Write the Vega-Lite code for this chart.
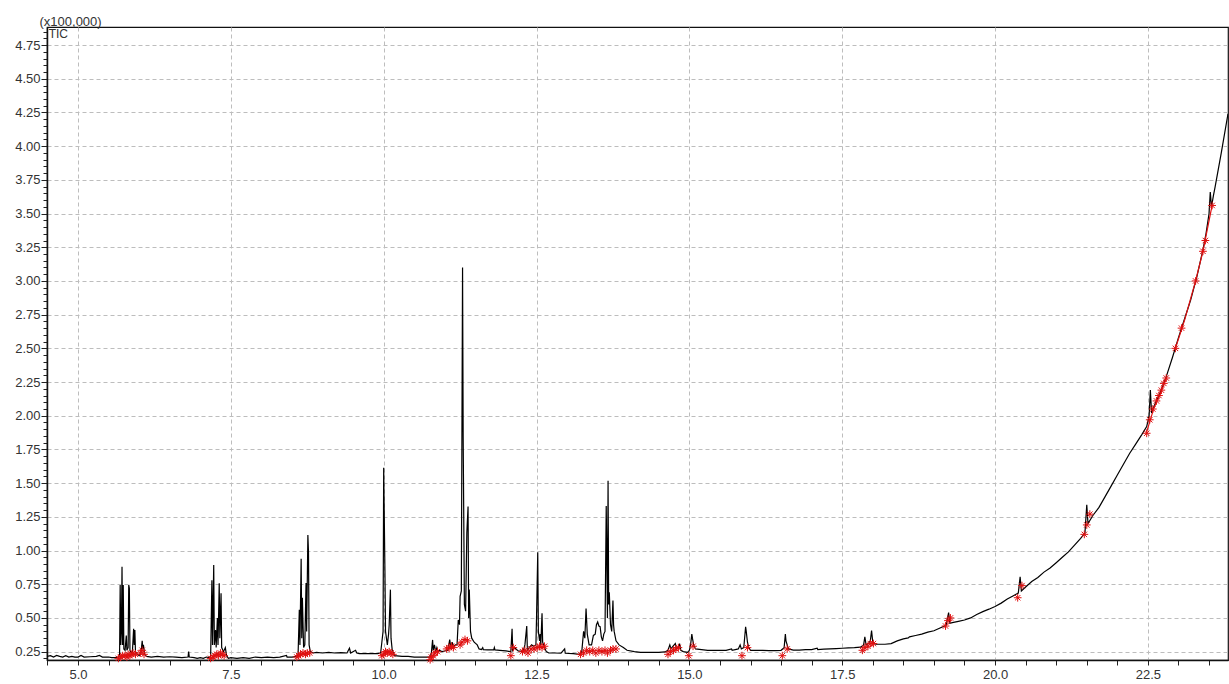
{
  "$schema": "https://vega.github.io/schema/vega-lite/v6.json",
  "width": 1181,
  "height": 633,
  "autosize": "none",
  "padding": {"left": 47, "top": 27, "right": 1, "bottom": 24},
  "background": "white",
  "config": {
    "view": {"stroke": "#111", "strokeWidth": 1.2},
    "axis": {
      "labelFont": "Liberation Sans",
      "labelFontSize": 13,
      "labelColor": "#333",
      "titleFont": "Liberation Sans",
      "domainColor": "#111",
      "domainWidth": 1.5,
      "tickColor": "#222",
      "gridColor": "#bdbdbd",
      "gridDash": [4, 3],
      "gridWidth": 1,
      "labelOverlap": false
    }
  },
  "datasets": {
    "tic": [
      {"t":4.49,"v":0.215},{"t":4.55,"v":0.22},{"t":4.6,"v":0.21},{"t":4.65,"v":0.222},{"t":4.7,"v":0.215},{"t":4.75,"v":0.21},{"t":4.8,"v":0.22},{"t":4.85,"v":0.21},{"t":4.9,"v":0.215},{"t":4.95,"v":0.21},{"t":5.0,"v":0.21},{"t":5.05,"v":0.222},{"t":5.1,"v":0.21},{"t":5.2,"v":0.212},{"t":5.3,"v":0.215},{"t":5.35,"v":0.222},{"t":5.4,"v":0.21},{"t":5.5,"v":0.21},{"t":5.55,"v":0.205},{"t":5.6,"v":0.205},{"t":5.66,"v":0.21},{"t":5.68,"v":0.22},
      {"t":5.69,"v":0.745},{"t":5.70,"v":0.30},{"t":5.71,"v":0.40},{"t":5.72,"v":0.88},{"t":5.73,"v":0.30},{"t":5.74,"v":0.745},{"t":5.75,"v":0.27},{"t":5.77,"v":0.26},{"t":5.79,"v":0.37},{"t":5.80,"v":0.26},{"t":5.82,"v":0.28},{"t":5.83,"v":0.745},{"t":5.84,"v":0.72},{"t":5.85,"v":0.26},{"t":5.87,"v":0.24},{"t":5.89,"v":0.25},{"t":5.91,"v":0.42},{"t":5.92,"v":0.30},{"t":5.93,"v":0.41},{"t":5.94,"v":0.25},{"t":5.97,"v":0.23},{"t":6.0,"v":0.22},{"t":6.03,"v":0.24},{"t":6.05,"v":0.33},{"t":6.06,"v":0.27},{"t":6.07,"v":0.30},{"t":6.09,"v":0.23},{"t":6.12,"v":0.215},
      {"t":6.2,"v":0.21},{"t":6.3,"v":0.215},{"t":6.4,"v":0.21},{"t":6.5,"v":0.212},{"t":6.6,"v":0.21},{"t":6.7,"v":0.205},{"t":6.8,"v":0.21},{"t":6.81,"v":0.25},{"t":6.82,"v":0.21},{"t":6.9,"v":0.205},{"t":6.95,"v":0.20},{"t":7.0,"v":0.205},{"t":7.05,"v":0.20},{"t":7.1,"v":0.21},{"t":7.15,"v":0.205},{"t":7.17,"v":0.22},
      {"t":7.19,"v":0.78},{"t":7.20,"v":0.30},{"t":7.22,"v":0.893},{"t":7.23,"v":0.30},{"t":7.25,"v":0.41},{"t":7.26,"v":0.28},{"t":7.28,"v":0.50},{"t":7.29,"v":0.30},{"t":7.31,"v":0.757},{"t":7.32,"v":0.35},{"t":7.34,"v":0.683},{"t":7.35,"v":0.28},{"t":7.38,"v":0.25},{"t":7.41,"v":0.28},{"t":7.43,"v":0.22},{"t":7.46,"v":0.20},
      {"t":7.5,"v":0.205},{"t":7.6,"v":0.20},{"t":7.7,"v":0.205},{"t":7.8,"v":0.20},{"t":7.9,"v":0.21},{"t":8.0,"v":0.205},{"t":8.1,"v":0.21},{"t":8.2,"v":0.205},{"t":8.3,"v":0.21},{"t":8.41,"v":0.222},{"t":8.42,"v":0.21},{"t":8.5,"v":0.21},{"t":8.58,"v":0.215},{"t":8.60,"v":0.23},
      {"t":8.62,"v":0.56},{"t":8.63,"v":0.30},{"t":8.65,"v":0.94},{"t":8.66,"v":0.35},{"t":8.67,"v":0.65},{"t":8.69,"v":0.28},{"t":8.71,"v":0.30},{"t":8.73,"v":0.76},{"t":8.74,"v":0.40},{"t":8.76,"v":1.116},{"t":8.77,"v":0.99},{"t":8.78,"v":0.30},{"t":8.80,"v":0.25},
      {"t":8.85,"v":0.24},{"t":8.9,"v":0.245},{"t":9.0,"v":0.24},{"t":9.1,"v":0.245},{"t":9.2,"v":0.24},{"t":9.3,"v":0.242},{"t":9.4,"v":0.24},{"t":9.44,"v":0.275},{"t":9.46,"v":0.24},{"t":9.54,"v":0.26},{"t":9.56,"v":0.24},{"t":9.6,"v":0.235},{"t":9.7,"v":0.235},{"t":9.8,"v":0.235},{"t":9.9,"v":0.235},{"t":9.95,"v":0.24},
      {"t":9.97,"v":0.32},{"t":9.99,"v":0.40},{"t":10.0,"v":1.615},{"t":10.02,"v":0.86},{"t":10.03,"v":0.40},{"t":10.06,"v":0.30},{"t":10.08,"v":0.38},{"t":10.09,"v":0.45},{"t":10.11,"v":0.71},{"t":10.12,"v":0.35},{"t":10.14,"v":0.26},{"t":10.18,"v":0.22},
      {"t":10.3,"v":0.215},{"t":10.4,"v":0.215},{"t":10.5,"v":0.21},{"t":10.6,"v":0.21},{"t":10.7,"v":0.21},{"t":10.76,"v":0.21},{"t":10.78,"v":0.24},{"t":10.80,"v":0.337},{"t":10.81,"v":0.26},{"t":10.83,"v":0.30},{"t":10.85,"v":0.25},{"t":10.87,"v":0.28},{"t":10.89,"v":0.25},{"t":10.91,"v":0.26},{"t":10.95,"v":0.25},{"t":11.0,"v":0.255},{"t":11.05,"v":0.26},
      {"t":11.08,"v":0.34},{"t":11.10,"v":0.27},{"t":11.12,"v":0.32},{"t":11.14,"v":0.28},{"t":11.17,"v":0.30},{"t":11.20,"v":0.30},{"t":11.22,"v":0.485},{"t":11.24,"v":0.45},{"t":11.25,"v":0.66},{"t":11.27,"v":0.70},{"t":11.29,"v":3.10},{"t":11.30,"v":1.85},{"t":11.32,"v":0.60},{"t":11.34,"v":0.55},{"t":11.36,"v":1.13},{"t":11.38,"v":1.326},{"t":11.39,"v":0.50},{"t":11.40,"v":0.71},{"t":11.42,"v":0.40},{"t":11.44,"v":0.35},{"t":11.48,"v":0.32},{"t":11.53,"v":0.30},{"t":11.56,"v":0.27},
      {"t":11.6,"v":0.265},{"t":11.62,"v":0.28},{"t":11.63,"v":0.265},{"t":11.7,"v":0.263},{"t":11.8,"v":0.263},{"t":11.81,"v":0.28},{"t":11.82,"v":0.263},{"t":11.9,"v":0.26},{"t":12.0,"v":0.255},{"t":12.08,"v":0.25},{"t":12.10,"v":0.42},{"t":12.11,"v":0.26},{"t":12.14,"v":0.28},{"t":12.2,"v":0.255},{"t":12.28,"v":0.25},{"t":12.31,"v":0.30},{"t":12.34,"v":0.44},{"t":12.35,"v":0.26},{"t":12.38,"v":0.28},{"t":12.42,"v":0.30},{"t":12.45,"v":0.29},{"t":12.49,"v":0.30},{"t":12.50,"v":0.50},{"t":12.52,"v":0.987},{"t":12.53,"v":0.40},{"t":12.55,"v":0.33},{"t":12.56,"v":0.38},{"t":12.57,"v":0.30},{"t":12.59,"v":0.535},{"t":12.60,"v":0.32},{"t":12.63,"v":0.28},{"t":12.66,"v":0.25},
      {"t":12.7,"v":0.24},{"t":12.8,"v":0.24},{"t":12.9,"v":0.238},{"t":12.96,"v":0.27},{"t":12.97,"v":0.238},{"t":13.1,"v":0.235},{"t":13.2,"v":0.23},{"t":13.24,"v":0.25},{"t":13.27,"v":0.40},{"t":13.29,"v":0.35},{"t":13.31,"v":0.57},{"t":13.33,"v":0.38},{"t":13.36,"v":0.30},{"t":13.40,"v":0.30},{"t":13.43,"v":0.37},{"t":13.46,"v":0.38},{"t":13.48,"v":0.45},{"t":13.50,"v":0.47},{"t":13.52,"v":0.44},{"t":13.54,"v":0.435},{"t":13.56,"v":0.36},{"t":13.58,"v":0.33},{"t":13.60,"v":0.38},{"t":13.62,"v":0.40},{"t":13.64,"v":1.33},{"t":13.66,"v":0.50},{"t":13.67,"v":1.517},{"t":13.68,"v":0.60},{"t":13.69,"v":0.69},{"t":13.71,"v":0.45},{"t":13.73,"v":0.40},{"t":13.75,"v":0.63},{"t":13.76,"v":0.45},{"t":13.77,"v":0.40},{"t":13.80,"v":0.33},{"t":13.85,"v":0.30},{"t":13.92,"v":0.28},{"t":13.98,"v":0.26},
      {"t":14.1,"v":0.25},{"t":14.2,"v":0.245},{"t":14.3,"v":0.245},{"t":14.4,"v":0.245},{"t":14.5,"v":0.245},{"t":14.6,"v":0.248},{"t":14.65,"v":0.26},{"t":14.68,"v":0.30},{"t":14.70,"v":0.27},{"t":14.73,"v":0.29},{"t":14.77,"v":0.31},{"t":14.79,"v":0.27},{"t":14.82,"v":0.28},{"t":14.84,"v":0.31},{"t":14.86,"v":0.26},{"t":14.9,"v":0.25},{"t":14.97,"v":0.245},{"t":15.0,"v":0.26},{"t":15.02,"v":0.30},{"t":15.04,"v":0.38},{"t":15.05,"v":0.35},{"t":15.07,"v":0.30},{"t":15.1,"v":0.27},
      {"t":15.2,"v":0.265},{"t":15.3,"v":0.26},{"t":15.4,"v":0.26},{"t":15.5,"v":0.26},{"t":15.6,"v":0.26},{"t":15.69,"v":0.27},{"t":15.70,"v":0.26},{"t":15.8,"v":0.27},{"t":15.83,"v":0.30},{"t":15.85,"v":0.27},{"t":15.89,"v":0.28},{"t":15.92,"v":0.435},{"t":15.93,"v":0.40},{"t":15.95,"v":0.32},{"t":15.97,"v":0.28},{"t":16.0,"v":0.26},{"t":16.1,"v":0.26},{"t":16.2,"v":0.26},{"t":16.3,"v":0.258},{"t":16.4,"v":0.258},{"t":16.5,"v":0.26},{"t":16.55,"v":0.28},{"t":16.57,"v":0.38},{"t":16.58,"v":0.33},{"t":16.62,"v":0.27},
      {"t":16.7,"v":0.262},{"t":16.8,"v":0.262},{"t":16.9,"v":0.265},{"t":17.0,"v":0.265},{"t":17.09,"v":0.275},{"t":17.1,"v":0.265},{"t":17.2,"v":0.268},{"t":17.3,"v":0.27},{"t":17.4,"v":0.272},{"t":17.5,"v":0.275},{"t":17.6,"v":0.278},{"t":17.7,"v":0.28},{"t":17.8,"v":0.283},{"t":17.85,"v":0.30},{"t":17.87,"v":0.36},{"t":17.89,"v":0.30},{"t":17.93,"v":0.31},{"t":17.96,"v":0.33},{"t":17.98,"v":0.406},{"t":18.0,"v":0.32},{"t":18.05,"v":0.305},
      {"t":18.1,"v":0.305},{"t":18.2,"v":0.305},{"t":18.3,"v":0.31},{"t":18.4,"v":0.33},{"t":18.5,"v":0.345},{"t":18.58,"v":0.352},{"t":18.6,"v":0.36},{"t":18.7,"v":0.37},{"t":18.8,"v":0.38},{"t":18.9,"v":0.395},{"t":19.0,"v":0.405},{"t":19.1,"v":0.425},{"t":19.2,"v":0.445},{"t":19.24,"v":0.54},{"t":19.26,"v":0.46},{"t":19.3,"v":0.465},{"t":19.4,"v":0.475},{"t":19.5,"v":0.485},{"t":19.6,"v":0.50},{"t":19.7,"v":0.525},{"t":19.8,"v":0.547},{"t":19.9,"v":0.565},{"t":20.0,"v":0.585},
      {"t":20.1,"v":0.61},{"t":20.2,"v":0.64},{"t":20.3,"v":0.665},{"t":20.38,"v":0.685},{"t":20.41,"v":0.806},{"t":20.43,"v":0.70},{"t":20.5,"v":0.73},{"t":20.6,"v":0.77},{"t":20.7,"v":0.80},{"t":20.8,"v":0.84},{"t":20.9,"v":0.87},{"t":21.0,"v":0.91},{"t":21.1,"v":0.95},{"t":21.2,"v":0.99},{"t":21.3,"v":1.04},{"t":21.4,"v":1.09},{"t":21.47,"v":1.13},{"t":21.50,"v":1.34},{"t":21.52,"v":1.20},{"t":21.6,"v":1.26},{"t":21.7,"v":1.32},{"t":21.8,"v":1.40},{"t":21.9,"v":1.48},{"t":22.0,"v":1.56},
      {"t":22.1,"v":1.64},{"t":22.2,"v":1.72},{"t":22.3,"v":1.79},{"t":22.4,"v":1.86},{"t":22.48,"v":1.92},{"t":22.52,"v":2.0},{"t":22.54,"v":2.19},{"t":22.56,"v":2.02},{"t":22.6,"v":2.07},{"t":22.7,"v":2.17},{"t":22.76,"v":2.24},{"t":22.8,"v":2.29},{"t":22.9,"v":2.43},{"t":23.0,"v":2.58},{"t":23.1,"v":2.72},{"t":23.2,"v":2.86},{"t":23.3,"v":3.03},{"t":23.4,"v":3.23},{"t":23.45,"v":3.35},{"t":23.5,"v":3.50},{"t":23.52,"v":3.66},{"t":23.54,"v":3.55},{"t":23.57,"v":3.63},{"t":23.6,"v":3.70},{"t":23.7,"v":3.95},{"t":23.81,"v":4.24}
    ],
    "peaks": [
      {"t":5.66,"v":0.20},{"t":5.70,"v":0.21},{"t":5.73,"v":0.22},{"t":5.77,"v":0.22},{"t":5.80,"v":0.21},{"t":5.82,"v":0.23},{"t":5.85,"v":0.22},{"t":5.88,"v":0.23},{"t":5.90,"v":0.24},{"t":5.94,"v":0.23},{"t":6.02,"v":0.24},{"t":6.05,"v":0.26},{"t":6.08,"v":0.23},
      {"t":7.17,"v":0.20},{"t":7.21,"v":0.21},{"t":7.24,"v":0.22},{"t":7.27,"v":0.23},{"t":7.30,"v":0.22},{"t":7.33,"v":0.24},{"t":7.36,"v":0.23},{"t":7.39,"v":0.22},
      {"t":8.58,"v":0.21},{"t":8.61,"v":0.22},{"t":8.64,"v":0.23},{"t":8.68,"v":0.24},{"t":8.72,"v":0.23},{"t":8.75,"v":0.24},{"t":8.79,"v":0.24},
      {"t":9.97,"v":0.22},{"t":10.0,"v":0.23},{"t":10.03,"v":0.25},{"t":10.06,"v":0.24},{"t":10.09,"v":0.25},{"t":10.12,"v":0.24},{"t":10.15,"v":0.23},
      {"t":10.76,"v":0.19},{"t":10.78,"v":0.21},{"t":10.81,"v":0.22},{"t":10.84,"v":0.24},{"t":10.88,"v":0.25},
      {"t":11.03,"v":0.27},{"t":11.07,"v":0.28},{"t":11.11,"v":0.29},{"t":11.14,"v":0.28},
      {"t":11.25,"v":0.30},{"t":11.28,"v":0.32},{"t":11.33,"v":0.34},{"t":11.37,"v":0.33},
      {"t":12.08,"v":0.22},{"t":12.12,"v":0.28},
      {"t":12.27,"v":0.25},{"t":12.31,"v":0.26},{"t":12.36,"v":0.24},{"t":12.41,"v":0.27},{"t":12.46,"v":0.27},{"t":12.51,"v":0.28},{"t":12.55,"v":0.29},{"t":12.59,"v":0.28},{"t":12.63,"v":0.29},
      {"t":13.22,"v":0.23},{"t":13.27,"v":0.24},{"t":13.32,"v":0.26},{"t":13.37,"v":0.25},{"t":13.42,"v":0.26},{"t":13.47,"v":0.24},{"t":13.52,"v":0.26},{"t":13.57,"v":0.25},{"t":13.62,"v":0.26},{"t":13.66,"v":0.24},{"t":13.71,"v":0.26},{"t":13.75,"v":0.27},{"t":13.80,"v":0.27},
      {"t":14.65,"v":0.23},{"t":14.69,"v":0.25},{"t":14.74,"v":0.26},{"t":14.78,"v":0.27},{"t":14.82,"v":0.28},
      {"t":14.99,"v":0.22},{"t":15.06,"v":0.29},
      {"t":15.86,"v":0.22},{"t":15.95,"v":0.28},
      {"t":16.52,"v":0.22},{"t":16.60,"v":0.27},
      {"t":17.83,"v":0.26},{"t":17.87,"v":0.28},{"t":17.92,"v":0.29},{"t":17.96,"v":0.31},{"t":18.01,"v":0.31},
      {"t":19.19,"v":0.44},{"t":19.23,"v":0.48},{"t":19.27,"v":0.50},
      {"t":20.37,"v":0.65},{"t":20.44,"v":0.74},
      {"t":21.46,"v":1.12},{"t":21.50,"v":1.19},{"t":21.55,"v":1.27},
      {"t":22.48,"v":1.87},{"t":22.53,"v":1.97},{"t":22.58,"v":2.05},{"t":22.64,"v":2.11},{"t":22.68,"v":2.15},{"t":22.72,"v":2.19},{"t":22.76,"v":2.24},{"t":22.80,"v":2.28},
      {"t":22.95,"v":2.50},{"t":23.05,"v":2.65},{"t":23.28,"v":3.00},{"t":23.40,"v":3.22},{"t":23.44,"v":3.30},{"t":23.55,"v":3.56}
    ],
    "redline": [
      {"seg":"a","t":22.48,"v":1.88},{"seg":"a","t":22.6,"v":2.06},{"seg":"a","t":22.7,"v":2.16},{"seg":"a","t":22.8,"v":2.28},
      {"seg":"b","t":22.95,"v":2.50},{"seg":"b","t":23.1,"v":2.71},{"seg":"b","t":23.28,"v":3.00},{"seg":"b","t":23.4,"v":3.22},{"seg":"b","t":23.55,"v":3.56}
    ],
    "label": [{"t":4.52,"v":4.884,"text":"TIC"}]
  },
  "layer": [
    {
      "data": {"name": "tic"},
      "mark": {"type": "line", "color": "#000", "strokeWidth": 1.2, "clip": true},
      "encoding": {
        "x": {
          "field": "t", "type": "quantitative",
          "scale": {"domain": [4.493, 23.81], "nice": false, "zero": false},
          "axis": {
            "title": null,
            "tickCount": 500,
            "values": [4.5,5.0,5.5,6.0,6.5,7.0,7.5,8.0,8.5,9.0,9.5,10.0,10.5,11.0,11.5,12.0,12.5,13.0,13.5,14.0,14.5,15.0,15.5,16.0,16.5,17.0,17.5,18.0,18.5,19.0,19.5,20.0,20.5,21.0,21.5,22.0,22.5,23.0,23.5],
            "labelExpr": "abs(datum.value/2.5 - round(datum.value/2.5)) < 0.001 ? format(datum.value, '.1f') : ''",
            "grid": true,
            "gridOpacity": {"condition": {"test": "abs(datum.value/2.5 - round(datum.value/2.5)) < 0.001", "value": 1}, "value": 0},
            "tickSize": 5,
            "labelPadding": 3,
            "labelFlush": false
          }
        },
        "y": {
          "field": "v", "type": "quantitative",
          "scale": {"domain": [0.188, 4.884], "nice": false, "zero": false},
          "axis": {
            "title": "(x100,000)",
            "titleAngle": 0,
            "titleAlign": "left",
            "titleBaseline": "alphabetic",
            "titleX": -8,
            "titleY": -2,
            "titleFontSize": 13,
            "titleFontWeight": "normal",
            "titleColor": "#333",
            "tickCount": 500,
            "values": [0.2,0.25,0.3,0.35,0.4,0.45,0.5,0.55,0.6,0.65,0.7,0.75,0.8,0.85,0.9,0.95,1.0,1.05,1.1,1.15,1.2,1.25,1.3,1.35,1.4,1.45,1.5,1.55,1.6,1.65,1.7,1.75,1.8,1.85,1.9,1.95,2.0,2.05,2.1,2.15,2.2,2.25,2.3,2.35,2.4,2.45,2.5,2.55,2.6,2.65,2.7,2.75,2.8,2.85,2.9,2.95,3.0,3.05,3.1,3.15,3.2,3.25,3.3,3.35,3.4,3.45,3.5,3.55,3.6,3.65,3.7,3.75,3.8,3.85,3.9,3.95,4.0,4.05,4.1,4.15,4.2,4.25,4.3,4.35,4.4,4.45,4.5,4.55,4.6,4.65,4.7,4.75,4.8,4.85],
            "labelExpr": "abs(datum.value*4 - round(datum.value*4)) < 0.001 ? format(datum.value, '.2f') : ''",
            "grid": true,
            "gridOpacity": {"condition": {"test": "abs(datum.value*4 - round(datum.value*4)) < 0.001", "value": 1}, "value": 0},
            "tickSize": {"condition": {"test": "abs(datum.value*4 - round(datum.value*4)) < 0.001", "value": 6}, "value": 4},
            "labelPadding": 1
          }
        }
      }
    },
    {
      "data": {"name": "redline"},
      "mark": {"type": "line", "color": "#e01010", "strokeWidth": 1.2},
      "encoding": {
        "x": {"field": "t", "type": "quantitative"},
        "y": {"field": "v", "type": "quantitative"},
        "detail": {"field": "seg", "type": "nominal"}
      }
    },
    {
      "data": {"name": "peaks"},
      "mark": {"type": "point", "shape": "M-1,0L1,0M0,-1L0,1M-0.7,-0.7L0.7,0.7M-0.7,0.7L0.7,-0.7", "filled": false, "color": "#e01010", "size": 60, "strokeWidth": 1, "opacity": 1},
      "encoding": {
        "x": {"field": "t", "type": "quantitative"},
        "y": {"field": "v", "type": "quantitative"}
      }
    },
    {
      "data": {"name": "label"},
      "mark": {"type": "text", "align": "left", "baseline": "top", "font": "Liberation Sans", "fontSize": 12, "color": "#333", "dy": 2},
      "encoding": {
        "x": {"field": "t", "type": "quantitative"},
        "y": {"field": "v", "type": "quantitative"},
        "text": {"field": "text"}
      }
    }
  ]
}
